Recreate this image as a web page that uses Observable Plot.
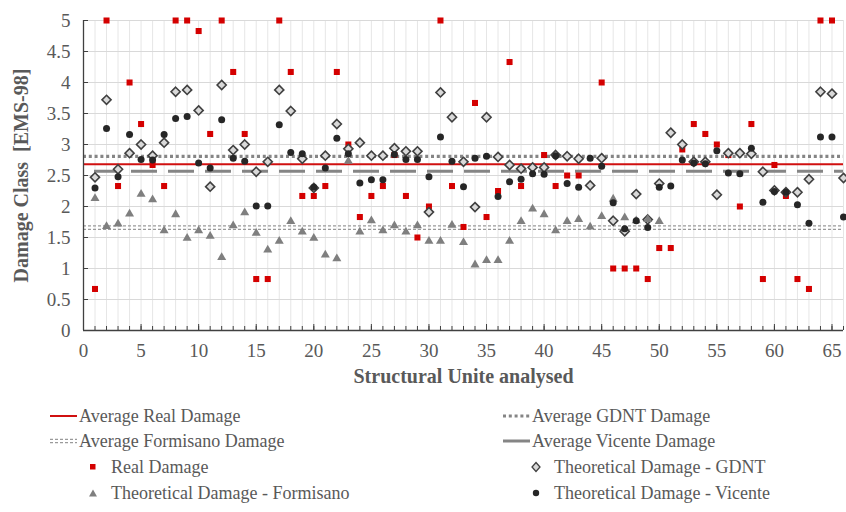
<!DOCTYPE html>
<html><head><meta charset="utf-8">
<script src="https://cdn.jsdelivr.net/npm/d3@7"></script>
<script src="https://cdn.jsdelivr.net/npm/@observablehq/plot@0.6"></script>
<style>
body{margin:0;background:#fff;}
#wrap{position:relative;width:846px;height:512px;font-family:"Liberation Serif","Times New Roman",serif;color:#595959;overflow:hidden;}
#wrap svg.plot{position:absolute;left:0;top:0;}
.lg{position:absolute;font-size:18px;white-space:nowrap;display:flex;align-items:center;height:22px;line-height:22px;}
.lg svg{display:block;margin-right:1px;}
</style></head><body><div id="wrap"></div>
<script>
// ---- data ----
const units = d3.range(1, 67);
const realDamage = [0.67,5,2.33,4,3.33,2.67,2.33,5,5,4.83, 3.17,5,4.17,3.17,0.83,0.83,5,4.17,2.17,2.17,
  2.33,4.17,3,1.83,2.17,2.33,2.83,2.17,1.5,2, 5,2.33,1.67,3.67,1.83,2.25,4.33,2.33,null,2.83,
  2.33,2.5,2.5,null,4,1,1,1,0.83,1.33, 1.33,2.92,3.33,3.17,3,2.83,2,3.33,0.83,2.67, 2.17,0.83,0.67,5,5,null];
const gdnt = [2.47,3.72,2.6,2.86,3,2.82,3.03,3.85,3.88,3.55, 2.32,3.96,2.91,3,2.56,2.72,3.88,3.54,2.77,2.3,
  2.82,3.33,2.93,3.03,2.82,2.82,2.94,2.89,2.89,1.91, 3.84,3.44,2.72,1.99,3.44,2.8,2.67,2.61,2.63,2.63,
  2.83,2.81,2.77,2.34,2.78,1.77,1.6,2.2,1.79,2.37, 3.19,3,2.72,2.72,2.19,2.86,2.86,2.85,2.56,2.26, 2.23,2.23,2.44,3.85,3.82,2.46];
const formisano = [2.13,1.68,1.72,1.88,2.2,2.11,1.61,1.87,1.49,1.61, 1.52,1.18,1.69,1.9,1.57,1.3,1.44,1.76,1.59,1.49,
  1.22,1.16,2.73,1.59,1.77,1.61,1.69,1.59,1.69,1.44, 1.44,1.7,1.42,1.06,1.13,1.13,1.44,1.76,1.96,1.87,
  1.61,1.76,1.79,1.67,1.84,2.12,1.82,1.77,1.79,1.76];
const vicente = [2.3,3.26,2.48,3.16,2.76,2.75,3.16,3.42,3.45,2.7, 2.62,3.4,2.78,2.73,2.01,2.01,3.32,2.87,2.85,2.31,
  2.62,3.1,2.85,2.38,2.43,2.43,2.84,2.76,2.76,2.48, 3.12,2.73,2.32,2.78,2.81,2.16,2.4,2.44,2.53,2.52,
  2.82,2.37,2.31,2.78,2.65,2.06,1.64,1.77,1.66,2.31, 2.33,2.75,2.7,2.69,2.9,2.54,2.53,2.94,2.07,2.24, 2.23,2.03,1.73,3.12,3.12,1.83];
const avgReal = 2.68, avgGdnt = 2.81, avgFormisano = 1.66, avgVicente = 2.57;
const yTicks = [0,0.5,1,1.5,2,2.5,3,3.5,4,4.5,5];
const xMinorTicks = d3.range(0, 67);
const xMajorTicks = [0,5,10,15,20,25,30,35,40,45,50,55,60,65];
const xLabel = "Structural Unite analysed";
const yLabel = "Damage Class\u00a0 [EMS-98]";

const pts = (arr) => arr.map((v, i) => ({x: units[i], y: v})).filter(d => d.y != null);

const W = 846, H = 395, ML = 83, MR = 3, MT = 20, MB = 65;
const innerW = W - ML - MR, innerH = H - MT - MB;

const plot = Plot.plot({
  width: W, height: H,
  marginLeft: ML, marginRight: MR, marginTop: MT, marginBottom: MB,
  x: {domain: [0, 66]},
  y: {domain: [0, 5]},
  style: {fontFamily: "'Liberation Serif', 'Times New Roman', serif", fontSize: "19px", color: "#595959", background: "transparent", overflow: "visible"},
  marks: [
    Plot.gridX(d3.range(1, 67), {stroke: "#e6e6e6", strokeOpacity: 1}),
    Plot.gridY(yTicks.slice(1), {stroke: "#d9d9d9", strokeOpacity: 1}),
    // averages
    Plot.ruleY([avgFormisano], {stroke: "#9a9a9a", strokeWidth: 1.3, strokeDasharray: "3,2", dy: -1.7}),
    Plot.ruleY([avgFormisano], {stroke: "#9a9a9a", strokeWidth: 1.3, strokeDasharray: "3,2", dy: 1.7}),
    Plot.ruleY([avgVicente], {stroke: "#858585", strokeWidth: 3, strokeDasharray: "26,11", strokeDashoffset: 26}),
    Plot.ruleY([avgGdnt], {stroke: "#858585", strokeWidth: 3.2, strokeDasharray: "3,2.8"}),
    Plot.ruleY([avgReal], {stroke: "#d01010", strokeWidth: 2}),
    // series
    Plot.dot(pts(realDamage), {x: "x", y: "y", symbol: "square", r: 3.4, fill: "#d40000", stroke: "none"}),
    Plot.dot(pts(gdnt), {x: "x", y: "y", symbol: "diamond2", r: 4.1, fill: "#d9d9d9", stroke: "#404040", strokeWidth: 1.6}),
    Plot.dot(pts(formisano), {x: "x", y: "y", symbol: "triangle2", r: 4.3, fill: "#7f7f7f", stroke: "none"}),
    Plot.dot(pts(vicente), {x: "x", y: "y", symbol: "circle", r: 3.5, fill: "#262626", stroke: "none"}),
    // axes lines and inward ticks
    Plot.ruleY([0], {stroke: "#404040", strokeWidth: 1.3}),
    Plot.ruleX([0], {stroke: "#404040", strokeWidth: 1.3}),
    Plot.tickX(xMinorTicks, {x: d => d, stroke: "#404040", insetTop: innerH - 4}),
    Plot.tickX(xMajorTicks, {x: d => d, stroke: "#404040", insetTop: innerH - 6}),
    Plot.tickY(yTicks, {y: d => d, stroke: "#404040", insetRight: innerW - 5}),
    Plot.axisX(xMajorTicks, {tickSize: 0, tickPadding: 13, fontSize: 19, fill: "#595959",
      label: xLabel, labelAnchor: "center", labelOffset: 52, labelArrow: "none"}),
    Plot.axisY(yTicks, {tickSize: 0, tickPadding: 13, fontSize: 19, fill: "#595959", tickFormat: d => String(d),
      label: yLabel, labelAnchor: "center", labelOffset: 70, labelArrow: "none"})
  ]
});
d3.select(plot).selectAll("[aria-label='x-axis label'] text, [aria-label='y-axis label'] text")
  .style("font-weight", "bold").style("font-size", "20px").attr("fill", "#595959");
d3.select(plot).selectAll("[aria-label='x-axis label'], [aria-label='y-axis label']")
  .style("font-weight", "bold").style("font-size", "20px").attr("fill", "#595959");
plot.classList.add("plot");
const wrap = document.getElementById("wrap");
wrap.appendChild(plot);

// ---- legend (HTML below the SVG) ----
const lineSw = (draw) => `<svg width="28" height="10">${draw}</svg>`;
const legendItems = [
  {label: "Average Real Damage", left: 50, top: 405, sw: lineSw('<line x1="0" x2="27" y1="5" y2="5" stroke="#d01010" stroke-width="2"/>')},
  {label: "Average GDNT Damage", left: 503, top: 405, sw: lineSw('<line x1="0" x2="27" y1="5" y2="5" stroke="#858585" stroke-width="3.2" stroke-dasharray="3,2.8"/>')},
  {label: "Average Formisano Damage", left: 50, top: 430, sw: lineSw('<line x1="0" x2="27" y1="3.3" y2="3.3" stroke="#9a9a9a" stroke-width="1.3" stroke-dasharray="3,2"/><line x1="0" x2="27" y1="6.7" y2="6.7" stroke="#9a9a9a" stroke-width="1.3" stroke-dasharray="3,2"/>')},
  {label: "Average Vicente Damage", left: 503, top: 430, sw: lineSw('<line x1="0" x2="27" y1="5" y2="5" stroke="#858585" stroke-width="3"/>')},
  {label: "Real Damage", left: 84, top: 456, sw: '<svg width="26" height="10"><rect x="6" y="2" width="5.5" height="5.5" fill="#d40000"/></svg>'},
  {label: "Theoretical Damage - GDNT", left: 527, top: 456, sw: '<svg width="26" height="12"><path d="M9,1.5L13,6L9,10.5L5,6Z" fill="#d9d9d9" stroke="#404040" stroke-width="1.3"/></svg>'},
  {label: "Theoretical Damage - Formisano", left: 84, top: 482, sw: '<svg width="26" height="10"><path d="M9,1.5L13,8.5L5,8.5Z" fill="#7f7f7f"/></svg>'},
  {label: "Theoretical Damage - Vicente", left: 527, top: 482, sw: '<svg width="26" height="10"><circle cx="9" cy="5" r="3.2" fill="#262626"/></svg>'}
];
for (const it of legendItems) {
  const d = document.createElement("div");
  d.className = "lg";
  d.style.left = it.left + "px";
  d.style.top = it.top + "px";
  d.innerHTML = it.sw + `<span>${it.label}</span>`;
  wrap.appendChild(d);
}
</script></body></html>
